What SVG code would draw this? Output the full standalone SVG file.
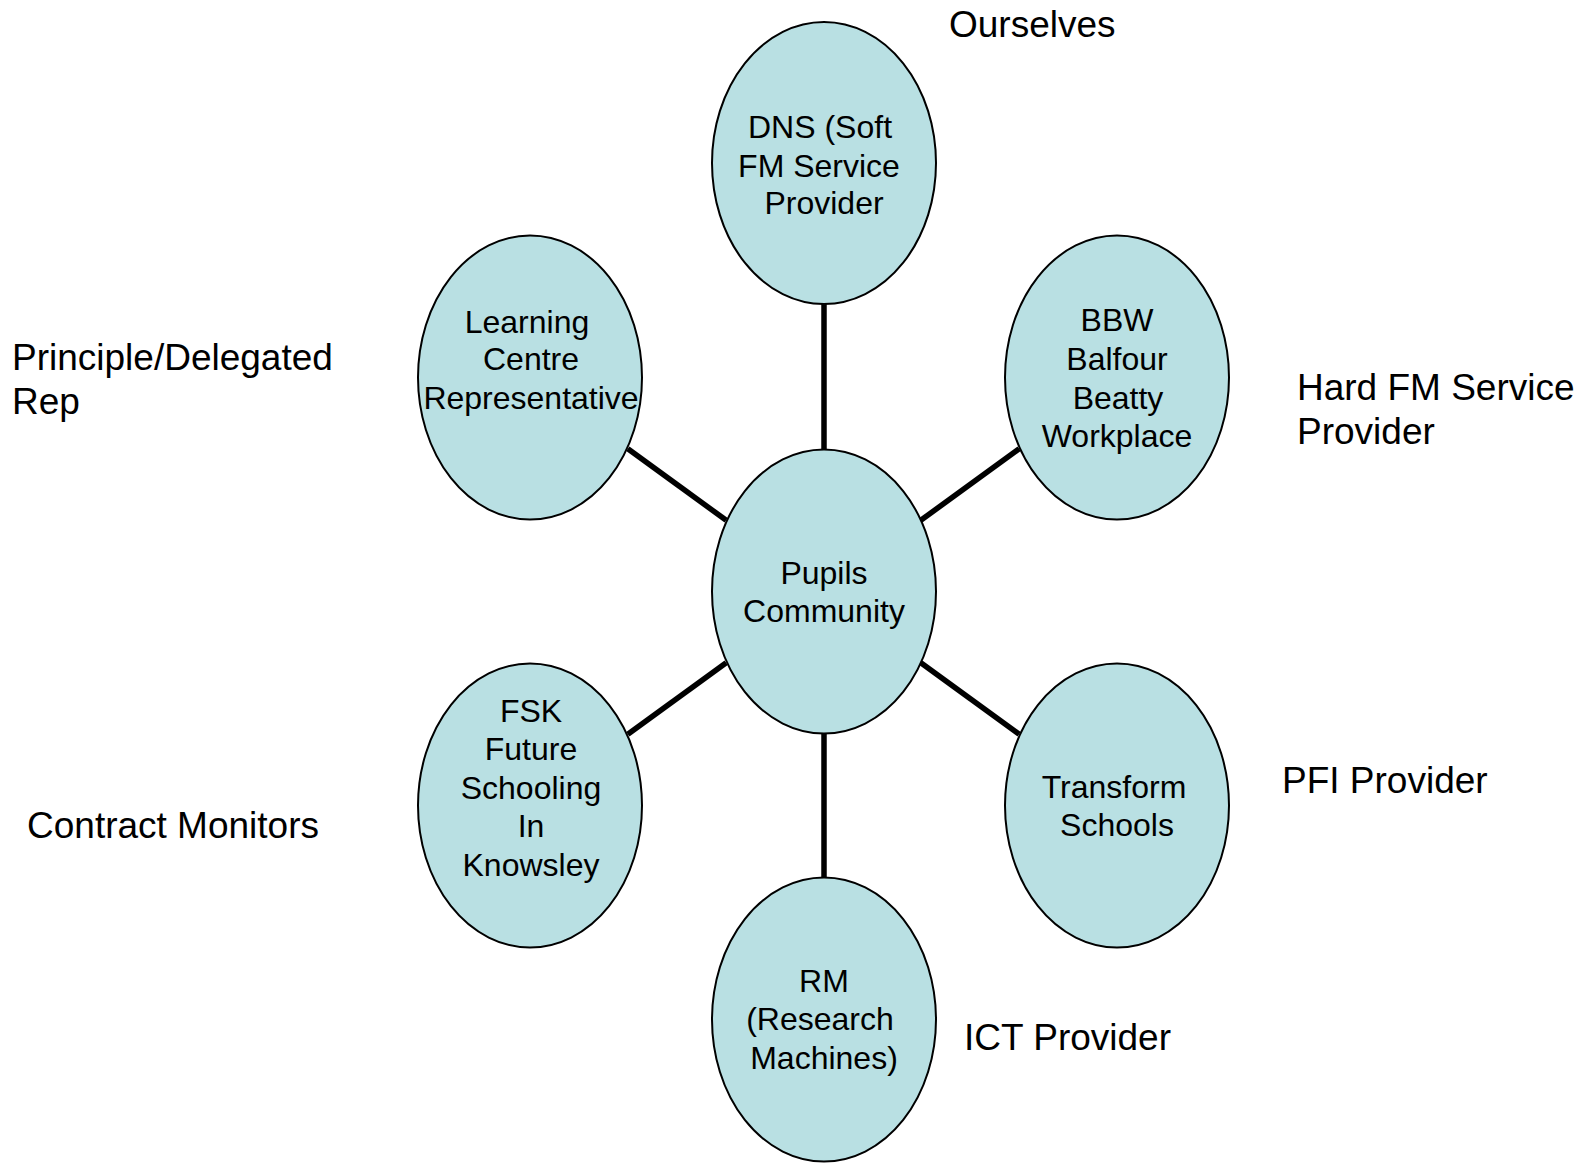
<svg xmlns="http://www.w3.org/2000/svg" width="1588" height="1166" viewBox="0 0 1588 1166">
<style>
.node ellipse{fill:#B9E0E3;stroke:#000;stroke-width:2}
.node text{font-family:"Liberation Sans",Arial,sans-serif;font-size:32px;fill:#000;text-anchor:middle}
.lbl{font-family:"Liberation Sans",Arial,sans-serif;font-size:37px;fill:#000}
#connectors line{stroke:#000;stroke-width:5.5}
</style>
<rect width="1588" height="1166" fill="#fff"/>
<g id="connectors">
<line x1="824" y1="304" x2="824" y2="450"/>
<line x1="627.8" y1="448.7" x2="726.2" y2="520.3"/>
<line x1="1019.2" y1="448.7" x2="920.8" y2="520.3"/>
<line x1="627.8" y1="734.3" x2="726.2" y2="662.7"/>
<line x1="1019.2" y1="734.3" x2="920.8" y2="662.7"/>
<line x1="824" y1="733" x2="824" y2="878"/>
</g>
<g id="node-dns" class="node">
<ellipse cx="824" cy="163" rx="112" ry="141"/>
<text x="820" y="138">DNS (Soft</text>
<text x="819" y="176.5">FM Service</text>
<text x="824" y="214">Provider</text>
</g>
<g id="node-learning" class="node">
<ellipse cx="530" cy="377.5" rx="112" ry="142"/>
<text x="527" y="332.5">Learning</text>
<text x="531" y="370">Centre</text>
<text x="531" y="408.5">Representative</text>
</g>
<g id="node-bbw" class="node">
<ellipse cx="1117" cy="377.5" rx="112" ry="142"/>
<text x="1117" y="330.5">BBW</text>
<text x="1117" y="370">Balfour</text>
<text x="1118" y="408.5">Beatty</text>
<text x="1117" y="447">Workplace</text>
</g>
<g id="node-center" class="node">
<ellipse cx="824" cy="591.5" rx="112" ry="142"/>
<text x="824" y="583.5">Pupils</text>
<text x="824" y="622">Community</text>
</g>
<g id="node-fsk" class="node">
<ellipse cx="530" cy="805.5" rx="112" ry="142"/>
<text x="531" y="721.5">FSK</text>
<text x="531" y="760">Future</text>
<text x="531" y="798.5">Schooling</text>
<text x="531" y="837">In</text>
<text x="531" y="875.5">Knowsley</text>
</g>
<g id="node-transform" class="node">
<ellipse cx="1117" cy="805.5" rx="112" ry="142"/>
<text x="1114" y="797.5">Transform</text>
<text x="1117" y="836">Schools</text>
</g>
<g id="node-rm" class="node">
<ellipse cx="824" cy="1019.5" rx="112" ry="142"/>
<text x="824" y="991.5">RM</text>
<text x="820" y="1030">(Research</text>
<text x="824" y="1068.5">Machines)</text>
</g>
<g id="labels">
<text class="lbl" x="949" y="37">Ourselves</text>
<text class="lbl" x="12" y="369.5">Principle/Delegated</text>
<text class="lbl" x="12" y="414">Rep</text>
<text class="lbl" x="1297" y="400">Hard FM Service</text>
<text class="lbl" x="1297" y="444">Provider</text>
<text class="lbl" x="1282" y="793">PFI Provider</text>
<text class="lbl" x="27" y="838">Contract Monitors</text>
<text class="lbl" x="964" y="1050">ICT Provider</text>
</g>
</svg>
